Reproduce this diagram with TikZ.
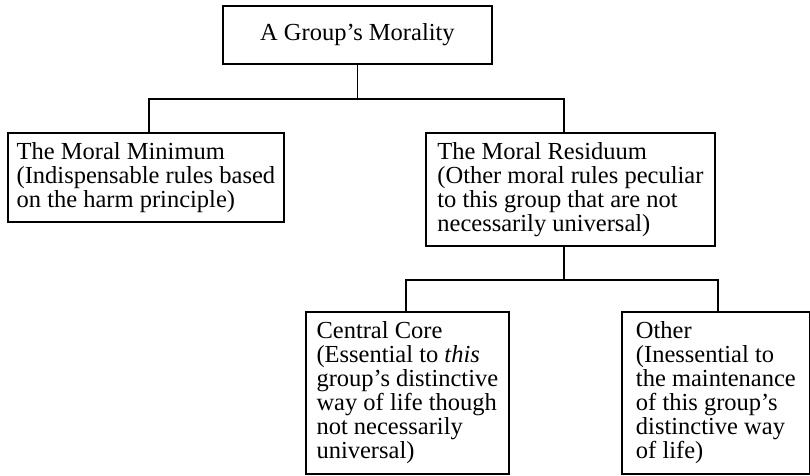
\documentclass[tikz,border=0pt]{standalone}
\usepackage{fontspec}
\setmainfont{Liberation Serif}

\tikzset{
  box/.style={draw, line width=0.9pt, anchor=north west, align=left,
    inner sep=0pt, font=\fontsize{12.25}{12}\selectfont},
  link/.style={line width=0.9pt},
}

\begin{document}
\begin{tikzpicture}[x=0.5pt, y=-0.5pt]
  \useasboundingbox (0,0) rectangle (810,476);
  % top level
  \node[box, align=center, minimum width=134.5pt, minimum height=29pt] (morality) at (222,5) {A Group’s Morality};
  % second level
  \node[box, minimum width=138pt, minimum height=44.5pt] (minimum) at (7,132)
    {The Moral Minimum\\(Indispensable rules based\\on the harm principle)};
  \node[box, minimum width=144.5pt, minimum height=56.5pt] (residuum) at (425,132)
    {The Moral Residuum\\(Other moral rules peculiar\\to this group that are not\\necessarily universal)};
  % third level
  \node[box, minimum width=101.5pt, minimum height=81pt] (core) at (305,311)
    {Central Core\\(Essential to \textit{this}\\group’s distinctive\\way of life though\\not necessarily\\universal)};
  \node[box, minimum width=94pt, minimum height=81pt] (other) at (621,311)
    {Other\\(Inessential to\\the maintenance\\of this group’s\\distinctive way\\of life)};
  % connectors
  \draw[link] (morality.south) -- ++(0,34) coordinate (fork1);
  \draw[link] ([xshift=1.5pt]minimum.north) |- (fork1) -| ([xshift=-3.25pt]residuum.north);
  \draw[link] ([xshift=-3.25pt]residuum.south) -- ++(0,33) coordinate (fork2);
  \draw[link] ([xshift=-0.75pt]core.north) |- (fork2) -| ([xshift=1pt]other.north);
\end{tikzpicture}
\end{document}
